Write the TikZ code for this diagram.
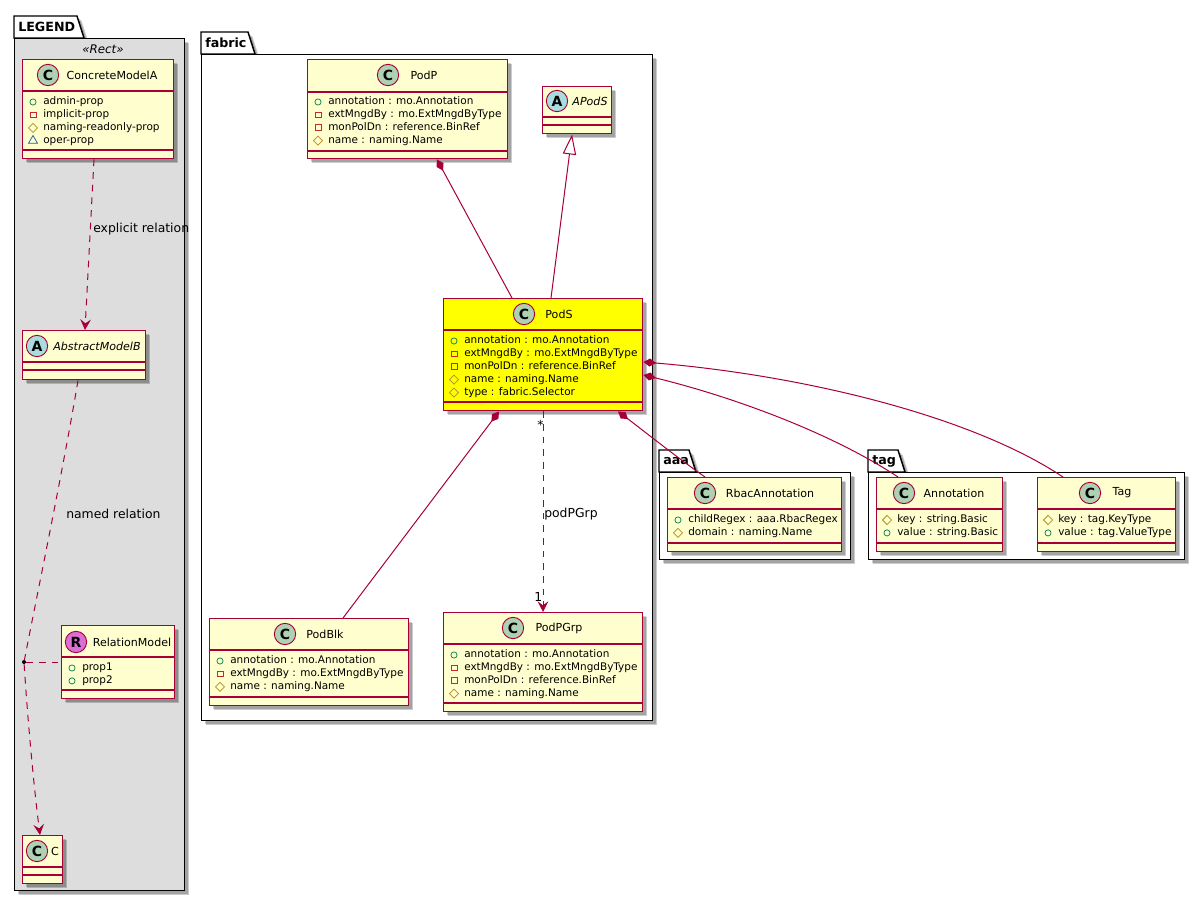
\documentclass[tikz,border=0pt]{standalone}
\usepackage{fontspec}
\setmainfont{DejaVu Sans}
\usetikzlibrary{arrows.meta, positioning, calc, shapes.geometric, shadows}

\definecolor{lemon}{HTML}{FEFECE}
\definecolor{crimson}{HTML}{A80036}
\definecolor{legendgrey}{HTML}{DDDDDD}
\definecolor{classgreen}{HTML}{ADD1B2}
\definecolor{abstractblue}{HTML}{A9DCDF}
\definecolor{relorchid}{HTML}{DA70D6}
\definecolor{podyellow}{HTML}{FFFF00}
\definecolor{pubgreen}{HTML}{038048}
\definecolor{privred}{HTML}{C82930}
\definecolor{protgold}{HTML}{B38D22}
\definecolor{packblue}{HTML}{1963A0}

\tikzset{
	softshadow/.style={drop shadow={shadow xshift=2.2pt, shadow yshift=-2.2pt, opacity=.2, fill=black},
		drop shadow={shadow xshift=3.4pt, shadow yshift=-3.4pt, opacity=.2, fill=black}},
	classnode/.style={draw=crimson, line width=1.1pt, anchor=north west, inner sep=0pt, softshadow},
	divider/.style={draw=crimson, line width=1.1pt},
	pkgnode/.style={draw=black, line width=1.1pt, anchor=north west, inner sep=0pt, softshadow},
	pkgtab/.style={draw=black, line width=1.1pt, fill=white, softshadow},
	pkglabel/.style={font=\fontsize{9.5}{11}\bfseries\selectfont, anchor=west, inner sep=0pt},
	badge/.style={circle, draw=crimson, line width=.7pt, minimum size=16pt, inner sep=0pt, font=\fontsize{10.5}{11}\bfseries\selectfont},
	classname/.style={font=\fontsize{8.3}{10}\selectfont, inner sep=0pt},
	member/.style={font=\fontsize{7.85}{9}\selectfont, anchor=west, inner sep=0pt, text height=6pt, text depth=1.7pt},
	linklabel/.style={font=\fontsize{9.3}{10}\selectfont, anchor=west, inner sep=0pt},
	pubmark/.style={circle, draw=pubgreen, line width=.55pt, minimum size=4.6pt, inner sep=0pt},
	privmark/.style={rectangle, draw=privred, line width=.6pt, minimum size=4.4pt, inner sep=0pt},
	protmark/.style={diamond, draw=protgold, line width=.55pt, minimum size=7pt, inner sep=0pt},
	packmark/.style={regular polygon, regular polygon sides=3, draw=packblue, line width=.55pt, minimum size=7.8pt, inner sep=0pt},
	link/.style={draw=crimson, line width=.75pt},
	dashlink/.style={link, dash pattern=on 5pt off 4.5pt},
	vee/.style={-{Stealth[length=8pt, width=8pt, inset=3pt]}},
	compose/.style={{Diamond[length=9.5pt, width=6pt]}-},
}

% class box with its two dividers: id, x1, y1, x2, y2, first divider, second divider
\newcommand{\umlclass}[8][lemon]{
	\node[classnode, fill=#1, minimum width={(#5-#3)*0.75pt}, minimum height={(#6-#4)*0.75pt}] (#2) at (#3,#4) {};
	\draw[divider] (#2.west |- 0,#7) -- (#2.east |- 0,#7);
	\draw[divider] (#2.west |- 0,#8) -- (#2.east |- 0,#8);
}
% round badge and title: id, letter, colour, badge x, badge y, title x, title
\newcommand{\umlhead}[7]{
	\node[badge, fill=#3] (#1badge) at (#4,#5) {#2};
	\node[classname] (#1name) at (#6,#5) {#7};
}
% member rows: id, x of the box, y of first row, list
\newcommand{\umlmembers}[4]{
	\foreach \mk/\mt [count=\mi] in {#4} {
		\pgfmathsetmacro{\my}{#3+(\mi-1)*12.9}
		\node[\mk] (#1mark\mi) at (#2+11,\my) {};
		\node[member] (#1row\mi) at (#2+21,\my) {\mt};
	}
}
% package: id, x1, y1 of body, x2, y2, tab top right x, tab top y
\newcommand{\umlpackage}[8][white]{
	\draw[pkgtab] (#3,#4) -- (#3,#8) -- (#7,#8) -- (#7+7,#4) -- cycle;
	\node[pkgnode, fill=#1, minimum width={(#5-#3)*0.75pt}, minimum height={(#6-#4)*0.75pt}] (#2) at (#3,#4) {};
}

\begin{document}
\begin{tikzpicture}[x=0.75pt, y=-0.75pt]
	\useasboundingbox (0,0) rectangle (1204,902);
	% Packages
	\umlpackage[legendgrey]{LEGEND}{14}{38}{184}{890}{77}{16}
	\node[pkglabel] (LEGENDlabel) at (18,27) {LEGEND};
	\umlpackage{fabric}{201}{54}{652}{720}{248}{32}
	\node[pkglabel] (fabriclabel) at (205,43) {fabric};
	\umlpackage{aaa}{659}{472}{850}{559}{689}{450}
	\node[pkglabel] (aaalabel) at (663,461) {aaa};
	\umlpackage{tag}{868}{472}{1184}{559}{898}{450}
	\node[pkglabel] (taglabel) at (872,461) {tag};
	\node[font=\fontsize{8.9}{10}\itshape\selectfont, inner sep=0pt] (LEGENDstereo) at (103,49) {«Rect»};

	% Classes of the legend
	\umlclass{ConcreteModelA}{22}{59}{173}{158}{91}{150}
	\umlhead{ConcreteModelA}{C}{classgreen}{48}{75}{112}{ConcreteModelA}
	\umlmembers{ConcreteModelA}{22}{102}{pubmark/admin-prop, privmark/implicit-prop, protmark/naming-readonly-prop, packmark/oper-prop}
	\umlclass{AbstractModelB}{22}{330}{145}{379}{362}{370}
	\umlhead{AbstractModelB}{A}{abstractblue}{37}{346}{97}{\itshape AbstractModelB}
	\umlclass{RelationModel}{61}{625}{174}{698}{657}{690}
	\umlhead{RelationModel}{R}{relorchid}{76}{642}{132}{RelationModel}
	\umlmembers{RelationModel}{61}{668}{pubmark/prop1, pubmark/prop2}
	\umlclass{C}{22}{835}{62}{883}{867}{875}
	\umlhead{C}{C}{classgreen}{37}{851}{55}{C}

	% Classes of fabric
	\umlclass{PodP}{307}{59}{507}{158}{92}{151}
	\umlhead{PodP}{C}{classgreen}{388}{75}{424}{PodP}
	\umlmembers{PodP}{307}{102}{pubmark/annotation : mo.Annotation, privmark/extMngdBy : mo.ExtMngdByType, privmark/monPolDn : reference.BinRef, protmark/name : naming.Name}
	\umlclass{APodS}{542}{86}{611}{133}{117}{125}
	\umlhead{APodS}{A}{abstractblue}{557}{101}{590}{\itshape APodS}
	\umlclass[podyellow]{PodS}{443}{298}{642}{410}{330}{402}
	\umlhead{PodS}{C}{classgreen}{524}{314}{559}{PodS}
	\umlmembers{PodS}{443}{341}{pubmark/annotation : mo.Annotation, privmark/extMngdBy : mo.ExtMngdByType, privmark/monPolDn : reference.BinRef, protmark/name : naming.Name, protmark/type : fabric.Selector}
	\umlclass{PodBlk}{209}{618}{408}{705}{650}{697}
	\umlhead{PodBlk}{C}{classgreen}{285}{634}{325}{PodBlk}
	\umlmembers{PodBlk}{209}{661}{pubmark/annotation : mo.Annotation, privmark/extMngdBy : mo.ExtMngdByType, protmark/name : naming.Name}
	\umlclass{PodPGrp}{443}{612}{642}{711}{644}{703}
	\umlhead{PodPGrp}{C}{classgreen}{513}{628}{559}{PodPGrp}
	\umlmembers{PodPGrp}{443}{655}{pubmark/annotation : mo.Annotation, privmark/extMngdBy : mo.ExtMngdByType, privmark/monPolDn : reference.BinRef, protmark/name : naming.Name}

	% Classes of aaa and tag
	\umlclass{RbacAnnotation}{667}{477}{841}{551}{509}{543}
	\umlhead{RbacAnnotation}{C}{classgreen}{705}{493}{770}{RbacAnnotation}
	\umlmembers{RbacAnnotation}{667}{520}{pubmark/childRegex : aaa.RbacRegex, protmark/domain : naming.Name}
	\umlclass{Annotation}{876}{477}{1002}{551}{509}{543}
	\umlhead{Annotation}{C}{classgreen}{904}{493}{954}{Annotation}
	\umlmembers{Annotation}{876}{520}{protmark/key : string.Basic, pubmark/value : string.Basic}
	\umlclass{Tag}{1037}{477}{1175}{551}{509}{543}
	\umlhead{Tag}{C}{classgreen}{1090}{493}{1122}{Tag}
	\umlmembers{Tag}{1037}{520}{protmark/key : tag.KeyType, pubmark/value : tag.ValueType}

	% Relations of the legend
	\node[circle, fill=black, inner sep=0pt, minimum size=3pt] (relDot) at (24,662) {};
	\draw[dashlink, vee] (94,0 |- ConcreteModelA.south) -- (85,0 |- AbstractModelB.north);
	\draw[dashlink] (78,0 |- AbstractModelB.south) .. controls (63,470) and (38,590) .. (relDot);
	\draw[dashlink, vee] (relDot) .. controls (27,710) and (33,780) .. (40,0 |- C.north);
	\draw[dashlink] (relDot) -- (RelationModel.west |- relDot);
	\node[linklabel] (explicitlabel) at (93,229) {explicit relation};
	\node[linklabel] (namedlabel) at (66,514) {named relation};

	% Relations of PodS
	\draw[link, compose] (437,0 |- PodP.south) -- (512,0 |- PodS.north);
	\draw[link, -{Triangle[open, fill=white, length=15pt, width=10pt]}] (551,0 |- PodS.north) -- (572,0 |- APodS.south);
	\draw[link, compose] (499,0 |- PodS.south) -- (343,0 |- PodBlk.north);
	\draw[dashlink, vee] (543,0 |- PodS.south) -- (543,0 |- PodPGrp.north);
	\draw[link, compose] (618,0 |- PodS.south) .. controls (640,428) and (675,456) .. (705,0 |- RbacAnnotation.north);
	\draw[link, compose] (PodS.east |- 0,375) .. controls (730,396) and (830,432) .. (898,0 |- Annotation.north);
	\draw[link, compose] (PodS.east |- 0,362) .. controls (800,375) and (970,415) .. (1063,0 |- Tag.north);
	\node[linklabel] (podPGrplabel) at (544,514) {podPGrp};
	\node[linklabel] (manylabel) at (537,425) {*};
	\node[linklabel] (onelabel) at (534,597) {1};
\end{tikzpicture}
\end{document}
